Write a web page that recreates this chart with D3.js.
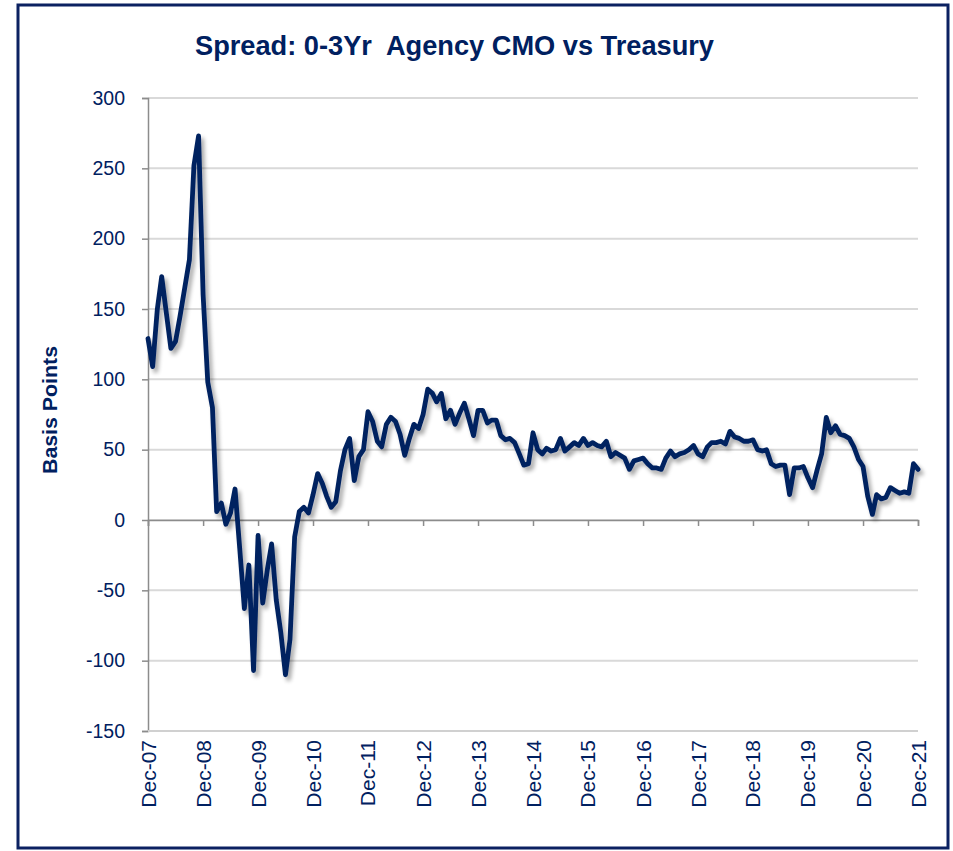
<!DOCTYPE html>
<html>
<head>
<meta charset="utf-8">
<script src="https://cdn.jsdelivr.net/npm/d3@7"></script>
<style>
  body { margin: 0; background: #fff; }
  svg text { fill: #002060; }
</style>
</head>
<body>
<script>
// titel en labels
var title = "Spread: 0-3Yr  Agency CMO vs Treasury";
var yLabel = "Basis Points";
var startMonth = new Date(2007, 11, 1);   // Dec-07, één waarde per maand
var xTickLabels = ["Dec-07","Dec-08","Dec-09","Dec-10","Dec-11","Dec-12","Dec-13","Dec-14",
                   "Dec-15","Dec-16","Dec-17","Dec-18","Dec-19","Dec-20","Dec-21"];
var yTicks = [-150,-100,-50,0,50,100,150,200,250,300];

// spread in basispunten
var spread = [
  129,109,150,173,147,122,127,145,165,185,252,273,            // 2007-12 .. 2008-11
  160,98,80,6,12,-3,5,22,-20,-63,-32,-107,                    // 2008-12 .. 2009-11
  -11,-59,-35,-17,-57,-80,-110,-85,-12,6,9,5,                 // 2009-12 .. 2010-11
  18,33,26,17,9,13,35,50,58,28,45,50,                         // 2010-12 .. 2011-11
  77,70,56,52,68,73,70,61,46,58,68,65,                        // 2011-12 .. 2012-11
  75,93,90,84,90,72,78,68,76,83,72,60,                        // 2012-12 .. 2013-11
  78,78,69,71,71,60,57,58,55,47,39,40,                        // 2013-12 .. 2014-11
  62,50,47,51,49,50,58,49,52,55,53,58,                        // 2014-12 .. 2015-11
  53,55,53,52,56,45,48,46,44,36,42,43,                        // 2015-12 .. 2016-11
  44,40,37,37,36,44,49,45,47,48,50,53,                        // 2016-12 .. 2017-11
  47,45,52,55,55,56,54,63,59,58,56,56,                        // 2017-12 .. 2018-11
  57,50,49,50,40,38,39,39,18,37,37,38,                        // 2018-12 .. 2019-11
  30,23,36,47,73,62,67,61,60,58,52,43,                        // 2019-12 .. 2020-11
  38,17,4,18,15,16,23,21,19,20,19,40,                         // 2020-12 .. 2021-11
  36                                                          // 2021-12
];

var data = spread.map(function(v, i){
  return {date: d3.timeMonth.offset(startMonth, i), value: v};
});

var W = 953, H = 851;
var margin = {top: 98, right: 35, bottom: 120, left: 148};
var width = 918 - margin.left;
var height = 731 - margin.top;

var svg = d3.select("body").append("svg")
            .attr("width", W)
            .attr("height", H);

// schaduw onder de lijn
var defs = svg.append("defs");
var f = defs.append("filter").attr("id", "shadow")
            .attr("x", "-5%").attr("y", "-5%").attr("width", "110%").attr("height", "110%");
f.append("feGaussianBlur").attr("in", "SourceAlpha").attr("stdDeviation", 2.2).attr("result", "b");
f.append("feOffset").attr("in", "b").attr("dx", 3).attr("dy", 4).attr("result", "o");
f.append("feComponentTransfer").attr("in", "o").attr("result", "s")
  .append("feFuncA").attr("type", "linear").attr("slope", 0.35);
var fm = f.append("feMerge");
fm.append("feMergeNode").attr("in", "s");
fm.append("feMergeNode").attr("in", "SourceGraphic");

// rand rond de grafiek
svg.append("rect")
   .attr("x", 18).attr("y", 5)
   .attr("width", 930).attr("height", 843)
   .attr("fill", "none")
   .attr("stroke", "#0b2161")
   .attr("stroke-width", 3);

// titel (smal en vet, zoals in het origineel)
svg.append("text")
   .attr("x", 195).attr("y", 55)
   .attr("textLength", 519)
   .attr("lengthAdjust", "spacingAndGlyphs")
   .style("white-space", "pre")
   .style("font-family", "'Liberation Sans', Arial, sans-serif")
   .style("font-weight", "bold")
   .style("font-size", "28px")
   .text(title);

var g = svg.append("g")
           .attr("transform", "translate(" + margin.left + "," + margin.top + ")");

var x = d3.scaleTime()
          .domain([startMonth, d3.timeMonth.offset(startMonth, 168)])
          .range([0, width]);
var y = d3.scaleLinear()
          .domain([-150, 300])
          .range([height, 0]);

// rasterlijnen
g.append("g").attr("class", "grid")
 .selectAll("line").data(yTicks.filter(function(d){ return d !== -150; }))
 .enter().append("line")
 .attr("x1", 0).attr("x2", width)
 .attr("y1", function(d){ return y(d); })
 .attr("y2", function(d){ return y(d); })
 .attr("stroke", "#d9d9d9")
 .attr("stroke-width", 2);

// y as
var yAxis = d3.axisLeft(y).tickValues(yTicks).tickSize(6).tickPadding(6)
              .tickFormat(function(d){ return String(d); });
var ya = g.append("g").attr("class", "y axis").call(yAxis);
ya.select(".domain").attr("stroke", "#8c8c8c").attr("stroke-width", 1.5);
ya.selectAll(".tick line").attr("stroke", "#8c8c8c").attr("stroke-width", 1.5);
ya.selectAll("text")
  .style("font-family", "'Liberation Sans', Arial, sans-serif")
  .style("font-size", "19.5px")
  .attr("fill", "#002060")
  .attr("x", -23);

// onderste lijn bij -150
g.append("line")
 .attr("x1", 0).attr("x2", width)
 .attr("y1", height).attr("y2", height)
 .attr("stroke", "#d0d0d0").attr("stroke-width", 2);

// x as op de nullijn
var tickDates = xTickLabels.map(function(d, i){ return d3.timeMonth.offset(startMonth, 12 * i); });
var xAxis = d3.axisBottom(x).tickValues(tickDates).tickSize(6).tickFormat("");
var xa = g.append("g").attr("class", "x axis")
          .attr("transform", "translate(0," + y(0) + ")")
          .call(xAxis);
xa.select(".domain").attr("stroke", "#8c8c8c").attr("stroke-width", 1.5);
xa.selectAll(".tick line").attr("stroke", "#8c8c8c").attr("stroke-width", 1.5);

// x labels onderaan, gedraaid
g.append("g").selectAll("text").data(xTickLabels)
 .enter().append("text")
 .attr("transform", function(d, i){
    return "translate(" + (x(tickDates[i]) + 7.5) + "," + (height + 9) + ") rotate(-90)";
 })
 .attr("text-anchor", "end")
 .style("font-family", "'Liberation Sans', Arial, sans-serif")
 .style("font-size", "21px")
 .text(function(d){ return d; });

// y as titel
svg.append("text")
   .attr("transform", "translate(57,474) rotate(-90)")
   .attr("textLength", 128)
   .attr("lengthAdjust", "spacingAndGlyphs")
   .style("font-family", "'Liberation Sans', Arial, sans-serif")
   .style("font-weight", "bold")
   .style("font-size", "20px")
   .text(yLabel);

// de lijn
var line = d3.line()
             .x(function(d){ return x(d.date); })
             .y(function(d){ return y(d.value); });

g.append("path")
 .datum(data)
 .attr("d", line)
 .attr("fill", "none")
 .attr("stroke", "#052461")
 .attr("stroke-width", 4.8)
 .attr("stroke-linejoin", "round")
 .attr("stroke-linecap", "round")
 .attr("filter", "url(#shadow)");
</script>
</body>
</html>
